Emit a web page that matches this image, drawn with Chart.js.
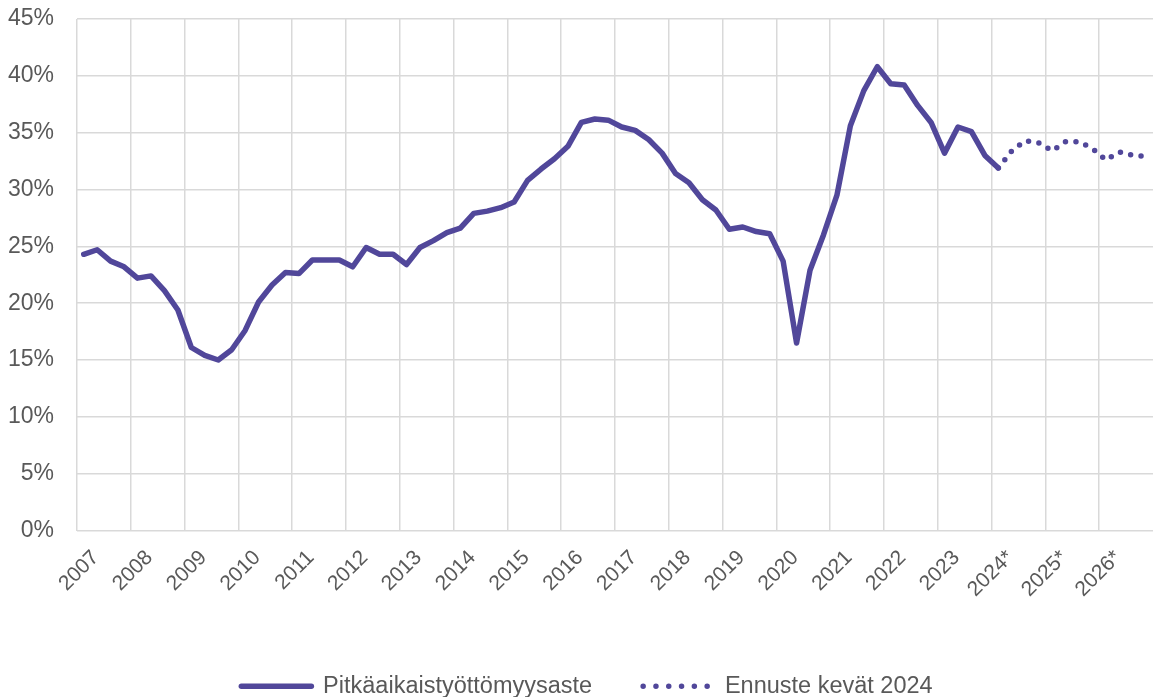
<!DOCTYPE html>
<html>
<head>
<meta charset="utf-8">
<script src="https://cdn.jsdelivr.net/npm/chart.js@4.4.1/dist/chart.umd.min.js"></script>
<style>
    html, body { margin: 0; padding: 0; background: #ffffff; }
    #wrap { width: 1153px; height: 697px; position: relative; }
</style>
</head>
<body>
<div id="wrap"><canvas id="ltuChart"></canvas></div>
<script>
// Year tick labels (one label per 4 quarters)
const yearLabels = ['2007', '2008', '2009', '2010', '2011', '2012', '2013', '2014', '2015', '2016',
    '2017', '2018', '2019', '2020', '2021', '2022', '2023', '2024*', '2025*', '2026*'];

// Quarterly categories 2007Q1 ... 2026Q4
const quarters = yearLabels.flatMap(y => ['Q1', 'Q2', 'Q3', 'Q4'].map(q => y.replace('*', '') + q));

// Long-term unemployment rate, % (2007Q1 - 2024Q1)
const actualValues = [
    24.3, 24.7, 23.7, 23.2, 22.2, 22.4, 21.1, 19.4,
    16.1, 15.4, 15.0, 15.9, 17.6, 20.1, 21.6, 22.7,
    22.6, 23.8, 23.8, 23.8, 23.2, 24.9, 24.3, 24.3,
    23.4, 24.9, 25.5, 26.2, 26.6, 27.9, 28.1, 28.4,
    28.9, 30.8, 31.8, 32.7, 33.8, 35.9, 36.2, 36.1,
    35.5, 35.2, 34.4, 33.2, 31.4, 30.6, 29.1, 28.2,
    26.5, 26.7, 26.3, 26.1, 23.7, 16.5, 22.9, 26.0,
    29.5, 35.6, 38.7, 40.8, 39.3, 39.2, 37.4, 35.9,
    33.2, 35.5, 35.1, 33.0, 31.9
];

// Forecast (spring 2024), starts at 2024Q1
const forecastStart = 68;
const forecastValues = [31.9, 33.4, 34.3, 34.1, 33.4, 34.2, 34.2, 33.6, 32.6, 33.3, 33.0, 32.9];

const lineColor = '#51479a';
const textColor = '#595959';
const gridColor = '#d9d9d9';
const fontFamily = '"Liberation Sans", Arial, sans-serif';

// shift the legend a bit to the right, like in the original
const legendShift = {
    id: 'legendShift',
    afterLayout(chart) {
        chart.legend.left += 21;
    }
};

const ctx = document.getElementById('ltuChart').getContext('2d');
const ltuChart = new Chart(ctx, {
    type: 'line',
    data: {
        labels: quarters,
        datasets: [{
            label: 'Pitkäaikaistyöttömyysaste',
            data: actualValues,
            borderColor: lineColor,
            backgroundColor: lineColor,
            borderWidth: 5.5,
            borderCapStyle: 'round',
            borderJoinStyle: 'round',
            pointRadius: 0,
            tension: 0
        }, {
            label: 'Ennuste kevät 2024',
            data: Array(forecastStart).fill(null).concat(forecastValues),
            borderColor: lineColor,
            backgroundColor: lineColor,
            borderWidth: 5.5,
            borderDash: [0, 10.5],
            borderCapStyle: 'round',
            pointRadius: 0,
            tension: 0
        }]
    },
    plugins: [legendShift],
    options: {
        responsive: true,
        maintainAspectRatio: false,
        animation: false,
        layout: {
            padding: { top: 19, left: 0, right: 0, bottom: -11 }
        },
        plugins: {
            tooltip: { enabled: false },
            legend: {
                position: 'bottom',
                labels: {
                    usePointStyle: true,
                    pointStyleWidth: 70,
                    padding: 51,
                    color: textColor,
                    font: { family: fontFamily, size: 23.5 },
                    generateLabels: chart => chart.data.datasets.map((ds, i) => ({
                        text: ds.label,
                        fillStyle: ds.borderColor,
                        strokeStyle: ds.borderColor,
                        lineWidth: ds.borderWidth,
                        lineCap: ds.borderCapStyle,
                        lineDash: i === 1 ? [0, 12.8] : [],
                        pointStyle: 'line',
                        fontColor: textColor,
                        hidden: false,
                        datasetIndex: i
                    }))
                }
            }
        },
        scales: {
            x: {
                offset: true,
                grid: {
                    offset: true,
                    drawTicks: false,
                    lineWidth: 1.5,
                    color: c => (c.index % 4 === 0 ? gridColor : 'rgba(0,0,0,0)')
                },
                border: { display: false },
                ticks: {
                    autoSkip: false,
                    maxRotation: 45,
                    minRotation: 45,
                    padding: 15,
                    labelOffset: 12,
                    color: textColor,
                    font: { family: fontFamily, size: 21 },
                    callback: (v, i) => (i % 4 === 0 ? yearLabels[i / 4] : '')
                },
                afterFit: scale => {
                    scale.height = 93;
                    scale.paddingLeft = 0;
                    scale.paddingRight = 0;
                }
            },
            y: {
                min: 0,
                max: 45,
                grid: { drawTicks: false, lineWidth: 1.5, color: gridColor },
                border: { display: false },
                ticks: {
                    stepSize: 5,
                    padding: 23,
                    color: textColor,
                    font: { family: fontFamily, size: 23 },
                    callback: v => v + '%'
                },
                afterFit: scale => {
                    scale.width = 77;
                    scale.paddingTop = 0;
                    scale.paddingBottom = 0;
                }
            }
        }
    }
});
</script>
</body>
</html>
